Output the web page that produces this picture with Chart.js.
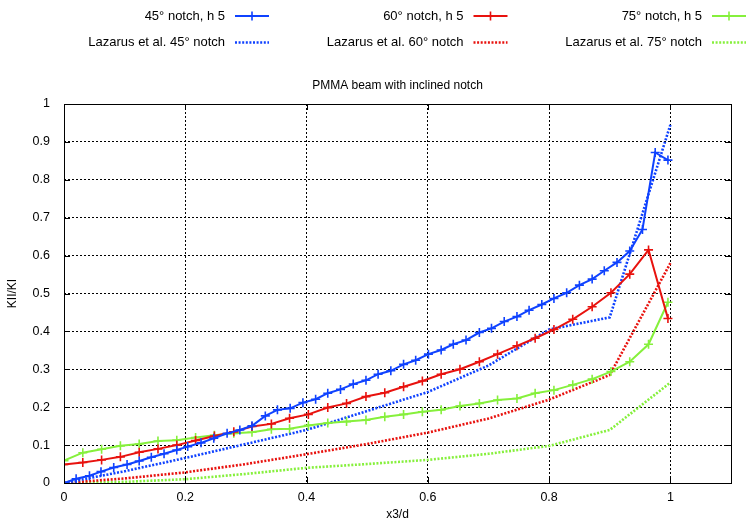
<!DOCTYPE html>
<html><head><meta charset="utf-8">
<script src="https://cdn.jsdelivr.net/npm/chart.js@4.4.1/dist/chart.umd.min.js"></script>
<style>html,body{margin:0;padding:0;background:#fff}</style>
</head><body>
<canvas id="c" width="750" height="525"></canvas>
<script>
// ---- data ----
const xTicks = [0, 0.2, 0.4, 0.6, 0.8, 1];
const yTicks = [0, 0.1, 0.2, 0.3, 0.4, 0.5, 0.6, 0.7, 0.8, 0.9, 1];

const seriesNames = ["45° notch, h 5", "60° notch, h 5", "75° notch, h 5",
  "Lazarus et al. 45° notch", "Lazarus et al. 60° notch", "Lazarus et al. 75° notch"];

const x45 = [0, 0.02, 0.042, 0.061, 0.082, 0.104, 0.124, 0.144, 0.165, 0.186, 0.204, 0.226, 0.247, 0.269, 0.29, 0.31, 0.332, 0.352, 0.373, 0.394, 0.415, 0.435, 0.456, 0.477, 0.498, 0.518, 0.539, 0.56, 0.58, 0.601, 0.622, 0.642, 0.663, 0.685, 0.705, 0.726, 0.747, 0.767, 0.788, 0.808, 0.829, 0.85, 0.871, 0.891, 0.912, 0.933, 0.954, 0.975, 0.996];
const y45 = [0, 0.011, 0.019, 0.030, 0.041, 0.049, 0.058, 0.068, 0.077, 0.087, 0.096, 0.106, 0.118, 0.131, 0.140, 0.151, 0.177, 0.193, 0.197, 0.212, 0.221, 0.237, 0.247, 0.261, 0.271, 0.287, 0.296, 0.313, 0.324, 0.340, 0.351, 0.366, 0.377, 0.397, 0.408, 0.426, 0.439, 0.456, 0.471, 0.487, 0.502, 0.522, 0.538, 0.560, 0.582, 0.612, 0.669, 0.872, 0.852];

const x60 = [0, 0.031, 0.062, 0.093, 0.124, 0.155, 0.186, 0.217, 0.248, 0.28, 0.31, 0.342, 0.372, 0.403, 0.435, 0.466, 0.498, 0.529, 0.56, 0.591, 0.622, 0.653, 0.685, 0.715, 0.747, 0.777, 0.808, 0.839, 0.871, 0.902, 0.933, 0.964, 0.996];
const y60 = [0.049, 0.054, 0.061, 0.069, 0.081, 0.090, 0.100, 0.112, 0.124, 0.135, 0.149, 0.156, 0.171, 0.181, 0.199, 0.210, 0.228, 0.238, 0.254, 0.269, 0.287, 0.300, 0.320, 0.340, 0.362, 0.382, 0.405, 0.432, 0.465, 0.502, 0.551, 0.615, 0.434];

const x75 = x60;
const y75 = [0.059, 0.080, 0.089, 0.098, 0.103, 0.111, 0.113, 0.120, 0.126, 0.131, 0.134, 0.142, 0.143, 0.152, 0.158, 0.162, 0.166, 0.175, 0.181, 0.188, 0.193, 0.203, 0.210, 0.219, 0.223, 0.237, 0.245, 0.259, 0.274, 0.294, 0.320, 0.366, 0.477];

const xLaz = [0, 0.1, 0.2, 0.3, 0.4, 0.5, 0.6, 0.7, 0.8, 0.9, 1.0];
const yLaz45 = [0, 0.031, 0.066, 0.103, 0.140, 0.190, 0.240, 0.310, 0.405, 0.437, 0.945];
const yLaz60 = [0, 0.012, 0.028, 0.050, 0.076, 0.103, 0.133, 0.170, 0.220, 0.285, 0.580];
const yLaz75 = [0, 0.003, 0.010, 0.024, 0.040, 0.050, 0.061, 0.077, 0.098, 0.140, 0.265];

// ---- styling ----
const BLUE = '#0f42ff', RED = '#e8120e', GREEN = '#86f03c';
const FONT = '"Liberation Sans", Arial, Helvetica, sans-serif';

const pts = (xs, ys) => xs.map((x, i) => ({x: x, y: ys[i]}));

function solid(label, xs, ys, color) {
  return {label, data: pts(xs, ys), borderColor: color, backgroundColor: color,
    borderWidth: 2, pointStyle: 'cross', pointRadius: 4.5, pointBorderWidth: 1.6,
    pointBorderColor: color, showLine: true, tension: 0, order: 1};
}
function dotted(label, xs, ys, color) {
  return {label, data: pts(xs, ys), borderColor: color, backgroundColor: color,
    borderWidth: 2.6, borderDash: [2, 1.6], pointRadius: 0, showLine: true, tension: 0, order: 2};
}

const gnuLegend = {
  id: 'gnuLegend',
  afterDraw(chart) {
    const ctx = chart.ctx;
    ctx.save();
    ctx.font = '13px ' + FONT;
    ctx.textAlign = 'right';
    ctx.textBaseline = 'middle';
    chart.data.datasets.forEach((ds, i) => {
      const col = i % 3, row = Math.floor(i / 3);
      const x0 = 235 + 238.5 * col, y = 16 + 26.5 * row;
      ctx.fillStyle = '#000';
      ctx.setLineDash([]);
      ctx.fillText(ds.label, x0 - 10, y);
      ctx.strokeStyle = ds.borderColor;
      ctx.lineWidth = ds.borderWidth;
      ctx.setLineDash(ds.borderDash || []);
      ctx.beginPath(); ctx.moveTo(x0, y); ctx.lineTo(x0 + 34, y); ctx.stroke();
      if (ds.pointRadius > 0) {
        ctx.setLineDash([]);
        ctx.lineWidth = ds.pointBorderWidth;
        const cx = x0 + 17, r = ds.pointRadius;
        ctx.beginPath(); ctx.moveTo(cx, y - r); ctx.lineTo(cx, y + r);
        ctx.moveTo(cx - r, y); ctx.lineTo(cx + r, y); ctx.stroke();
      }
    });
    ctx.restore();
  }
};

const frame = {
  id: 'frame',
  afterDatasetsDraw(chart) {
    const {ctx, chartArea: a, scales} = chart;
    ctx.save();
    ctx.strokeStyle = '#000';
    ctx.lineWidth = 1;
    ctx.setLineDash([]);
    ctx.strokeRect(Math.round(a.left) + 0.5, Math.round(a.top) + 0.5,
      Math.round(a.right - a.left), Math.round(a.bottom - a.top));
    const L = 6;
    ctx.beginPath();
    scales.x.ticks.forEach(t => {
      const px = Math.round(scales.x.getPixelForValue(t.value)) + 0.5;
      ctx.moveTo(px, a.bottom); ctx.lineTo(px, a.bottom - L);
      ctx.moveTo(px, a.top); ctx.lineTo(px, a.top + L);
    });
    scales.y.ticks.forEach(t => {
      const py = Math.round(scales.y.getPixelForValue(t.value)) + 0.5;
      ctx.moveTo(a.left, py); ctx.lineTo(a.left + L, py);
      ctx.moveTo(a.right, py); ctx.lineTo(a.right - L, py);
    });
    ctx.stroke();
    ctx.restore();
  }
};

const fmt = v => String(+Number(v).toFixed(2));

new Chart(document.getElementById('c'), {
  type: 'scatter',
  data: {
    datasets: [
      solid(seriesNames[0], x45, y45, BLUE),
      solid(seriesNames[1], x60, y60, RED),
      solid(seriesNames[2], x75, y75, GREEN),
      dotted(seriesNames[3], xLaz, yLaz45, BLUE),
      dotted(seriesNames[4], xLaz, yLaz60, RED),
      dotted(seriesNames[5], xLaz, yLaz75, GREEN)
    ]
  },
  options: {
    responsive: false,
    animation: false,
    devicePixelRatio: 1,
    layout: {padding: {top: 78, right: 19, bottom: 0, left: 0}},
    plugins: {
      legend: {display: false},
      tooltip: {enabled: false},
      title: {display: true, text: 'PMMA beam with inclined notch', fullSize: false,
        color: '#000', font: {family: FONT, size: 12, weight: 'normal'},
        padding: {top: 0, bottom: 11.6}}
    },
    scales: {
      x: {
        type: 'linear', min: 0, max: 1.1,
        afterBuildTicks: s => { s.ticks = xTicks.map(v => ({value: v})); },
        afterFit: s => { s.height = 42; },
        grid: {color: '#000', lineWidth: 1, drawTicks: false},
        border: {display: false, dash: [2, 2]},
        ticks: {color: '#000', padding: 7, maxRotation: 0, autoSkip: false,
          font: {family: FONT, size: 12.5}, callback: fmt},
        title: {display: true, text: 'x3/d', color: '#000',
          font: {family: FONT, size: 12}, padding: {top: 0, bottom: 3}}
      },
      y: {
        type: 'linear', min: 0, max: 1,
        afterBuildTicks: s => { s.ticks = yTicks.map(v => ({value: v})); },
        afterFit: s => { s.width = 64; },
        grid: {color: '#000', lineWidth: 1, drawTicks: false},
        border: {display: false, dash: [2, 2]},
        ticks: {color: '#000', padding: 14, autoSkip: false,
          font: {family: FONT, size: 12.5}, callback: fmt},
        title: {display: true, text: 'KII/KI', color: '#000',
          font: {family: FONT, size: 12}, padding: {top: 5, bottom: 0}}
      }
    }
  },
  plugins: [gnuLegend, frame]
});
</script>
</body></html>
